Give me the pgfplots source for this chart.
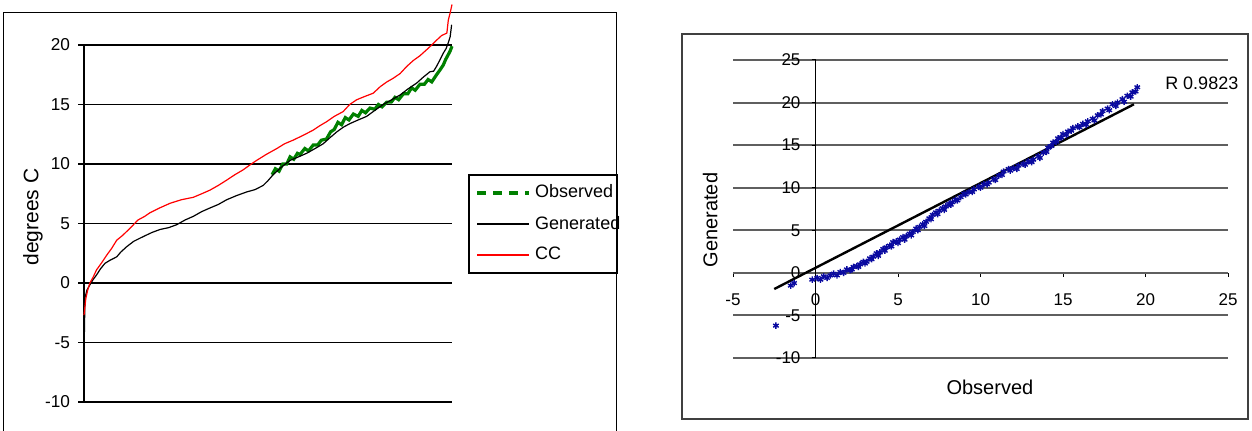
\documentclass[border=0pt]{standalone}
\usepackage{fontspec}
\setmainfont{Liberation Sans}
\usepackage{pgfplots}
\pgfplotsset{compat=1.18}
\definecolor{obsgreen}{RGB}{0,128,0}
\definecolor{ccred}{RGB}{255,0,0}
\definecolor{qqblue}{RGB}{10,10,160}
\definecolor{gridgray}{RGB}{95,95,95}

\begin{document}
\begin{tikzpicture}
\path[use as bounding box] (0pt,0pt) rectangle (626pt,215.5pt);
% panel frames
\draw[line width=0.75pt] (1.75pt,-5pt) -- (1.75pt,209.15pt) -- (308.25pt,209.15pt) -- (308.25pt,-5pt);
\draw[line width=1pt, black!75] (341pt,6pt) rectangle (624pt,198.5pt);

% ---------------- left panel ----------------
\begin{axis}[
  at={(42pt,14.5pt)}, anchor=south west,
  scale only axis, width=184pt, height=178.5pt,
  xmin=0, xmax=1, ymin=-10, ymax=20,
  axis x line=none, axis y line*=left,
  y axis line style={line width=0.8pt, -},
  ytick={-10,-5,...,20},
  ymajorgrids, grid style={black, line width=0.8pt},
  tick align=outside, major tick length=3pt,
  tick style={black, line width=0.8pt},
  /pgf/number format/assume math mode=true,
  yticklabel style={font=\fontsize{8.6}{10}\selectfont, xshift=-0.5pt},
  ylabel={degrees C},
  ylabel style={at={(axis description cs:-0.139,0.518)}, anchor=center, font=\fontsize{10.5}{12}\selectfont},
  clip=false,
  legend style={at={(axis description cs:1.0435,0.6387)}, anchor=north west,
    draw=black, line width=0.8pt, font=\fontsize{9}{9}\selectfont,
    row sep=3.6pt, inner xsep=3pt, inner ysep=3pt},
  legend cell align=left,
  legend image code/.code={\draw[#1] (0pt,0pt) -- (26pt,0pt);},
]
\addlegendimage{obsgreen, line width=2.2pt, dash pattern=on 4.5pt off 3.5pt}
\addlegendentry{\makebox[36pt][l]{Observed}}

% Observed (green, jagged)
\addplot[obsgreen, line width=1.6pt, forget plot] coordinates {
(0.511,9.1) (0.520,9.6) (0.530,9.4) (0.540,10.0) (0.551,10.0) (0.560,10.6) (0.570,10.4)
(0.580,10.9) (0.587,10.8) (0.600,11.3) (0.610,11.1) (0.623,11.6) (0.635,11.6) (0.645,12.0)
(0.659,12.1) (0.670,12.7) (0.680,12.9) (0.690,13.5) (0.700,13.3) (0.710,13.9) (0.720,13.7)
(0.732,14.2) (0.745,14.0) (0.755,14.5) (0.765,14.3) (0.777,14.7) (0.790,14.6) (0.800,15.0)
(0.810,14.8) (0.823,15.2) (0.835,15.2) (0.845,15.6) (0.855,15.4) (0.868,15.9) (0.880,15.9)
(0.890,16.4) (0.900,16.2) (0.913,16.7) (0.925,16.7) (0.935,17.1) (0.945,16.9) (0.958,17.5)
(0.965,17.8) (0.976,18.3) (0.983,18.8) (0.990,19.2) (0.995,19.5) (1.000,19.9)
};

% Generated (black)
\addplot[black, line width=0.6pt] coordinates {
(0.000,-6.0) (0.002,-2.5) (0.003,-1.2) (0.008,-0.6) (0.016,-0.15) (0.025,0.3) (0.034,0.67)
(0.045,1.2) (0.057,1.65) (0.070,1.9) (0.089,2.2) (0.100,2.6) (0.116,3.05) (0.135,3.5)
(0.161,3.9) (0.185,4.25) (0.207,4.5) (0.230,4.65) (0.252,4.9) (0.275,5.3) (0.297,5.6)
(0.320,6.0) (0.342,6.3) (0.365,6.6) (0.388,7.0) (0.415,7.35) (0.442,7.65) (0.465,7.85)
(0.487,8.2) (0.500,8.6) (0.514,9.1) (0.535,9.7) (0.560,10.3) (0.583,10.6) (0.605,10.9)
(0.628,11.3) (0.650,11.7) (0.668,12.2) (0.687,12.7) (0.705,13.1) (0.723,13.4) (0.745,13.7)
(0.768,14.0) (0.790,14.5) (0.813,15.0) (0.836,15.4) (0.859,15.8) (0.880,16.3) (0.904,16.8)
(0.922,17.3) (0.940,17.75) (0.950,17.8) (0.958,18.2) (0.968,18.8) (0.976,19.3) (0.984,19.7)
(0.990,20.2) (0.995,20.7) (0.999,21.7)
};
\addlegendentry{\makebox[36pt][l]{Generated}}

% CC (red)
\addplot[ccred, line width=0.6pt] coordinates {
(0.000,-2.7) (0.005,-1.3) (0.010,-0.6) (0.016,0.0) (0.025,0.5) (0.034,1.1) (0.048,1.7)
(0.062,2.35) (0.075,2.9) (0.089,3.6) (0.105,4.0) (0.125,4.6) (0.147,5.3) (0.165,5.6)
(0.179,5.9) (0.205,6.3) (0.234,6.7) (0.265,7.0) (0.297,7.2) (0.320,7.5) (0.342,7.8)
(0.365,8.2) (0.388,8.65) (0.410,9.1) (0.432,9.5) (0.450,9.9) (0.469,10.3) (0.495,10.8)
(0.524,11.3) (0.545,11.7) (0.568,12.0) (0.595,12.4) (0.623,12.85) (0.640,13.2)
(0.659,13.55) (0.680,14.0) (0.704,14.4) (0.722,15.0) (0.741,15.4) (0.765,15.7)
(0.786,15.95) (0.805,16.5) (0.823,16.9) (0.840,17.2) (0.859,17.6) (0.877,18.2)
(0.895,18.7) (0.913,19.1) (0.931,19.6) (0.945,20.0) (0.958,20.4) (0.972,20.8)
(0.986,21.0) (0.990,22.1) (0.995,22.7) (1.000,23.4)
};
\addlegendentry{\makebox[36pt][l]{CC}}
\end{axis}

% ---------------- right panel ----------------
\begin{axis}[
  at={(366.5pt,36.5pt)}, anchor=south west,
  scale only axis, width=247.5pt, height=149pt,
  xmin=-5, xmax=25, ymin=-10, ymax=25,
  enlargelimits=false, clip=false,
  axis lines=middle,
  axis line style={-},
  x axis line style={gridgray, line width=1pt},
  y axis line style={black, line width=0.5pt},
  xtick={-5,0,...,25}, ytick={-10,-5,...,25},
  hide obscured x ticks=false, hide obscured y ticks=false,
  ymajorgrids, grid style={gridgray, line width=1pt},
  tick align=outside, major tick length=2pt,
  tick style={black, line width=0.5pt},
  /pgf/number format/assume math mode=true,
  xticklabel style={font=\fontsize{8.5}{10}\selectfont, yshift=-5pt},
  yticklabel style={font=\fontsize{8.5}{10}\selectfont, xshift=-2pt},
  xlabel={Observed},
  xlabel style={at={(axis description cs:0.519,-0.10)}, anchor=center, font=\fontsize{10}{12}\selectfont},
  ylabel={Generated},
  ylabel style={at={(axis description cs:-0.046,0.463)}, anchor=center, rotate=90, font=\fontsize{10}{12}\selectfont},
]
\addplot[only marks, mark=asterisk, mark size=1.6pt, qqblue, mark options={line width=0.7pt}] coordinates {
(-2.4,-6.2) (-1.5,-1.5) (-1.3,-1.2) (-0.2,-0.8) (0.1,-0.6) (0.3,-0.8) (0.5,-0.4) (0.7,-0.6)
(0.9,-0.3) (1.1,-0.1) (1.3,-0.3) (1.5,0.1) (1.7,0.0) (1.9,0.4) (2.1,0.3) (2.3,0.7)
(2.5,0.8) (2.7,1.0) (2.9,1.3) (3.1,1.3) (3.3,1.7) (3.5,1.9) (3.7,2.3) (3.9,2.4)
(4.1,2.8) (4.3,3.0) (4.5,3.2) (4.7,3.6) (4.9,3.7) (5.1,3.9) (5.3,4.2) (5.5,4.3)
(5.7,4.6) (5.9,4.8) (6.1,5.2) (6.3,5.4) (6.5,5.7) (6.7,6.0) (6.9,6.4) (7.1,6.8)
(7.3,7.1) (7.5,7.3) (7.7,7.6) (7.9,7.8) (8.1,8.1) (8.3,8.3) (8.5,8.6) (8.8,8.9)
(9.0,9.3) (9.3,9.5) (9.6,9.8) (9.9,10.1) (10.2,10.4) (10.5,10.6) (10.8,11.0) (11.1,11.4)
(11.4,11.9) (11.7,12.2) (12.0,12.3) (12.3,12.6) (12.6,12.8) (12.9,13.1) (13.2,13.3)
(13.5,13.7) (13.8,14.1) (14.1,14.7) (14.4,15.3) (14.7,15.8) (15.0,16.3) (15.3,16.6)
(15.6,17.0) (15.9,17.2) (16.2,17.5) (16.5,17.8) (16.8,18.1) (17.1,18.5) (17.4,19.0)
(17.7,19.3) (18.0,19.8) (18.3,20.0) (18.6,20.4) (18.9,20.8) (19.2,21.2) (19.5,21.8)
(2.2,0.4) (2.6,0.7) (3.0,1.1) (3.4,1.6) (3.8,2.0) (4.2,2.6) (4.6,3.1) (5.0,3.5)
(5.4,3.9) (5.8,4.4) (6.2,5.0) (6.6,5.5) (7.0,6.3) (7.4,6.9) (7.8,7.4) (8.2,8.0)
(8.6,8.5) (9.1,9.2) (9.5,9.5) (10.0,10.0) (10.4,10.4) (10.9,10.9) (11.3,11.5) (11.8,12.0)
(12.2,12.2) (12.7,12.7) (13.1,13.0) (13.6,13.5) (14.0,14.2) (14.3,14.9) (14.6,15.4)
(14.9,15.9) (15.2,16.2) (15.5,16.7) (16.0,17.1) (16.4,17.4) (16.9,17.9) (17.3,18.6)
(17.8,19.1) (18.2,19.6) (18.7,20.1) (19.1,20.7) (19.4,21.3)
};
\addplot[black, line width=1.2pt] coordinates {(-2.5,-1.9) (19.3,19.8)};
\node[font=\fontsize{9}{10}\selectfont] at (axis description cs:0.947,0.923) {R 0.9823};
\end{axis}
\end{tikzpicture}
\end{document}
